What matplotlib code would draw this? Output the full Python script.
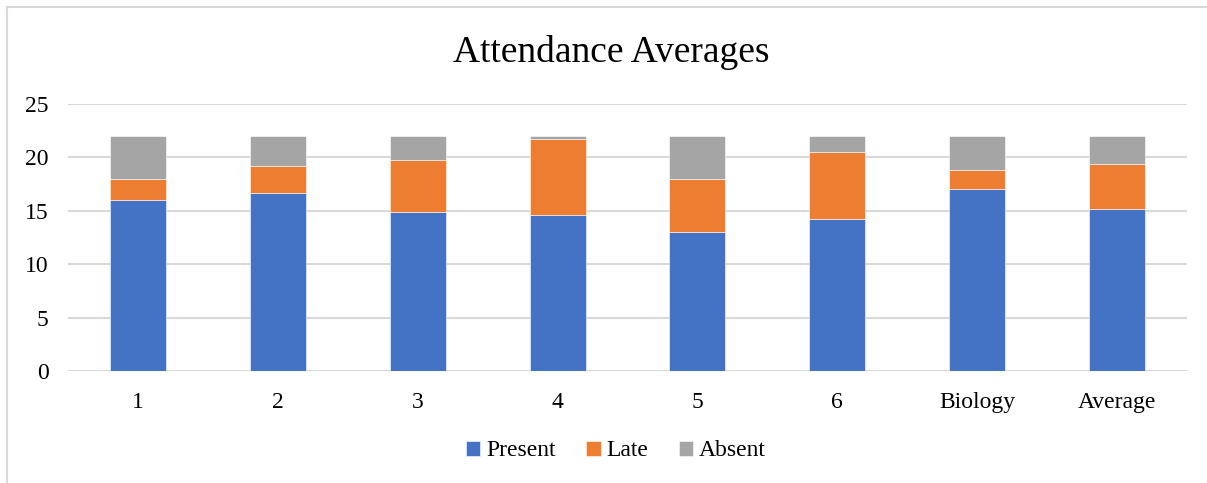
import matplotlib.pyplot as plt
import numpy as np
from matplotlib.lines import Line2D

plt.rcParams['font.family'] = ['Liberation Serif', 'DejaVu Serif']

# attendance per period
categories = ['1', '2', '3', '4', '5', '6', 'Biology', 'Average']
present = [16.0, 16.7, 14.9, 14.6, 13.0, 14.2, 17.0, 15.2]
late = [2.0, 2.45, 4.9, 7.1, 5.0, 6.3, 1.85, 4.2]
absent = [4.0, 2.85, 2.2, 0.3, 4.0, 1.5, 3.15, 2.6]
yticks = [0, 5, 10, 15, 20, 25]

fig = plt.figure(figsize=(12.07, 4.83), dpi=100)
W, H = 1207, 483
ax = fig.add_axes([68 / W, (H - 371) / H, (1187 - 68) / W, (371 - 104) / H])

x = np.arange(len(categories))
present = np.array(present)
late = np.array(late)
absent = np.array(absent)

bw = 0.4
ax.bar(x, present, bw, color='#4472C4', edgecolor='#ffffff', linewidth=0.4, label='Present', zorder=3)
ax.bar(x, late, bw, bottom=present, color='#ED7D31', edgecolor='#ffffff', linewidth=0.4, label='Late', zorder=3)
ax.bar(x, absent, bw, bottom=present + late, color='#A5A5A5', edgecolor='#ffffff', linewidth=0.4, label='Absent', zorder=3)

ax.set_xlim(-0.5, len(categories) - 0.5)
ax.set_ylim(0, 25)
ax.set_yticks(yticks)
ax.set_xticks(x)
ax.set_xticklabels(categories)
ax.yaxis.grid(True, color='#d9d9d9', linewidth=1.5, zorder=0)
ax.set_axisbelow(True)
for s in ax.spines.values():
    s.set_visible(False)
ax.tick_params(axis='both', length=0, labelsize=17, colors='#000000')
ax.tick_params(axis='y', pad=14)
ax.tick_params(axis='x', pad=15)

fig.text(611 / W, 1 - 53 / H, 'Attendance Averages', ha='center', va='center', fontsize=27)

fig.legend(loc='center', bbox_to_anchor=(616 / W, 1 - 451 / H), ncol=3, frameon=False,
           fontsize=17, handlelength=0.6, handleheight=0.6, handletextpad=0.25,
           columnspacing=1.3)

# chart border (top and left edges only)
fig.add_artist(Line2D([7 / W, 1], [1 - 7 / H, 1 - 7 / H], color='#d9d9d9', linewidth=1.5))
fig.add_artist(Line2D([7 / W, 7 / W], [0, 1 - 7 / H], color='#d9d9d9', linewidth=1.5))

fig.savefig('out.png', dpi=100)
